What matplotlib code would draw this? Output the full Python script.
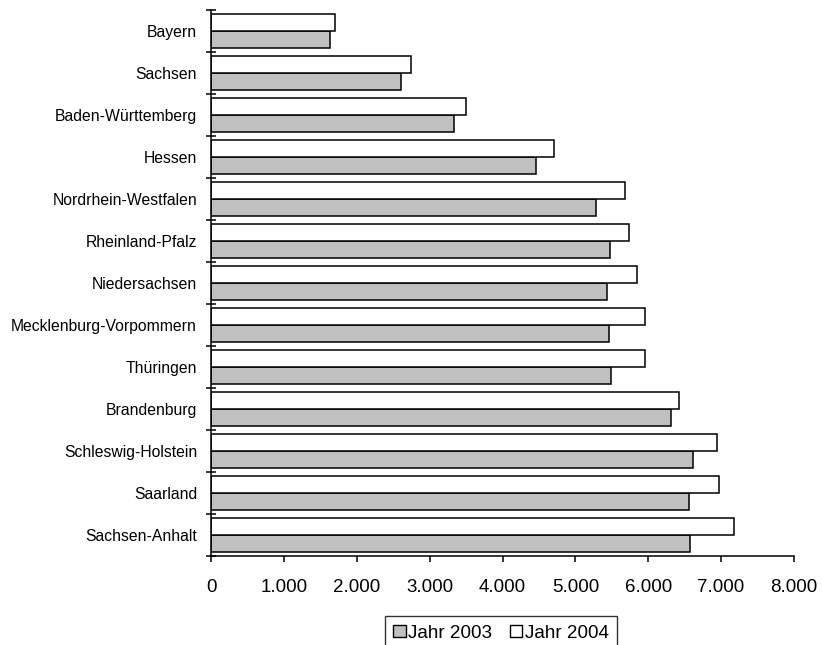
import numpy as np
import matplotlib
matplotlib.use("Agg")
import matplotlib.pyplot as plt
from matplotlib.ticker import FuncFormatter, FixedLocator

plt.rcParams['font.family'] = ['Liberation Sans', 'DejaVu Sans']

laender = ['Bayern', 'Sachsen', 'Baden-Württemberg', 'Hessen', 'Nordrhein-Westfalen',
           'Rheinland-Pfalz', 'Niedersachsen', 'Mecklenburg-Vorpommern', 'Thüringen',
           'Brandenburg', 'Schleswig-Holstein', 'Saarland', 'Sachsen-Anhalt']
jahr_2003 = [1635, 2610, 3340, 4460, 5280, 5470, 5440, 5460, 5490, 6310, 6610, 6560, 6570]
jahr_2004 = [1700, 2740, 3500, 4700, 5680, 5730, 5850, 5950, 5950, 6420, 6950, 6970, 7180]
x_ticks = [0, 1000, 2000, 3000, 4000, 5000, 6000, 7000, 8000]

fig = plt.figure(figsize=(8.22, 6.45), dpi=100)
ax = fig.add_axes([211 / 822, 1 - 556 / 645, (794 - 211) / 822, (556 - 10) / 645])

y = np.arange(len(laender))
h = 0.405
ax.barh(y + h / 2, jahr_2003, height=h, color='#C0C0C0', edgecolor='black',
        linewidth=1.1, label='Jahr 2003')
ax.barh(y - h / 2, jahr_2004, height=h, color='white', edgecolor='black',
        linewidth=1.1, label='Jahr 2004')

ax.set_ylim(len(laender) - 0.5, -0.5)
ax.set_xlim(0, 8000)

# Kategorienamen mittig, Teilstriche an den Gruppengrenzen
ax.set_yticks(y)
ax.set_yticklabels(laender, fontsize=11.3)
ax.tick_params(axis='y', which='major', length=0, pad=10)
ax.yaxis.set_minor_locator(FixedLocator(np.arange(-0.5, len(laender), 1.0)))
ax.tick_params(axis='y', which='minor', direction='inout', length=7.5, width=1.1)

ax.set_xticks(x_ticks)
ax.xaxis.set_major_formatter(FuncFormatter(lambda v, p: f'{int(v):,}'.replace(',', '.')))
ax.tick_params(axis='x', direction='out', length=4.5, width=1.1, labelsize=13.5, pad=12)

for s in ['top', 'right']:
    ax.spines[s].set_visible(False)
for s in ['left', 'bottom']:
    ax.spines[s].set_linewidth(1.1)

leg = fig.legend(loc='upper center', bbox_to_anchor=(501 / 822, 1 - 616 / 645), ncol=2,
                 fontsize=13.6, frameon=True, fancybox=False, handlelength=0.65,
                 handleheight=0.65, handletextpad=0.15, columnspacing=0.9,
                 borderpad=0.45, borderaxespad=0)
leg.get_frame().set_edgecolor('black')
leg.get_frame().set_linewidth(1.0)
for p in leg.get_patches():
    p.set_linewidth(1.0)

fig.savefig('out.png', dpi=100)
